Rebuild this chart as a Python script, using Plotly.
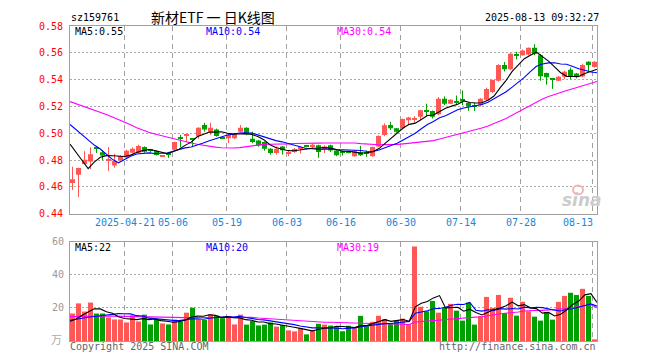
import plotly.graph_objects as go

# ---------------- data ----------------
dates = [
    "2025-04-08", "2025-04-09", "2025-04-10", "2025-04-11", "2025-04-14", "2025-04-15", "2025-04-16", "2025-04-17", "2025-04-18",
    "2025-04-21", "2025-04-22", "2025-04-23", "2025-04-24", "2025-04-25", "2025-04-28", "2025-04-29", "2025-04-30",
    "2025-05-06", "2025-05-07", "2025-05-08", "2025-05-09", "2025-05-12", "2025-05-13", "2025-05-14", "2025-05-15", "2025-05-16",
    "2025-05-19", "2025-05-20", "2025-05-21", "2025-05-22", "2025-05-23", "2025-05-26", "2025-05-27", "2025-05-28", "2025-05-29", "2025-05-30",
    "2025-06-03", "2025-06-04", "2025-06-05", "2025-06-06", "2025-06-09", "2025-06-10", "2025-06-11", "2025-06-12", "2025-06-13",
    "2025-06-16", "2025-06-17", "2025-06-18", "2025-06-19", "2025-06-20", "2025-06-23", "2025-06-24", "2025-06-25", "2025-06-26", "2025-06-27",
    "2025-06-30", "2025-07-01", "2025-07-02", "2025-07-03", "2025-07-04", "2025-07-07", "2025-07-08", "2025-07-09", "2025-07-10", "2025-07-11",
    "2025-07-14", "2025-07-15", "2025-07-16", "2025-07-17", "2025-07-18", "2025-07-21", "2025-07-22", "2025-07-23", "2025-07-24", "2025-07-25",
    "2025-07-28", "2025-07-29", "2025-07-30", "2025-07-31", "2025-08-01", "2025-08-04", "2025-08-05", "2025-08-06", "2025-08-07", "2025-08-08",
    "2025-08-11", "2025-08-12", "2025-08-13",
]

open_ = [
    0.4630, 0.4690, 0.4770, 0.4790, 0.4885, 0.4858, 0.4800, 0.4760, 0.4800, 0.4820,
    0.4855, 0.4855, 0.4897, 0.4875, 0.4868, 0.4826, 0.4845, 0.4878, 0.4965, 0.4980,
    0.4955, 0.4980, 0.5061, 0.5012, 0.5029, 0.4966, 0.4963, 0.4963, 0.5012, 0.5041,
    0.4959, 0.4946, 0.4934, 0.4885, 0.4853, 0.4902, 0.4851, 0.4861, 0.4887, 0.4903,
    0.4897, 0.4910, 0.4882, 0.4910, 0.4871, 0.4860, 0.4862, 0.4829, 0.4858, 0.4848,
    0.4829, 0.4902, 0.4988, 0.5061, 0.5037, 0.5037, 0.5098, 0.5103, 0.5123, 0.5162,
    0.5167, 0.5142, 0.5258, 0.5221, 0.5235, 0.5247, 0.5226, 0.5202, 0.5209, 0.5250,
    0.5307, 0.5392, 0.5509, 0.5478, 0.5584, 0.5582, 0.5588, 0.5637, 0.5582, 0.5449,
    0.5402, 0.5392, 0.5422, 0.5473, 0.5446, 0.5424, 0.5534, 0.5495,
]
high = [
    0.4751, 0.4743, 0.4866, 0.4895, 0.4897, 0.4873, 0.4897, 0.4846, 0.4835, 0.4878,
    0.4895, 0.4915, 0.4902, 0.4880, 0.4872, 0.4835, 0.4850, 0.4938, 0.4988, 0.4995,
    0.4958, 0.5045, 0.5078, 0.5078, 0.5035, 0.4970, 0.5000, 0.5003, 0.5061, 0.5045,
    0.5012, 0.4950, 0.4940, 0.4890, 0.4902, 0.4905, 0.4866, 0.4890, 0.4902, 0.4905,
    0.4922, 0.4915, 0.4910, 0.4915, 0.4878, 0.4871, 0.4866, 0.4875, 0.4907, 0.4871,
    0.4900, 0.4985, 0.5074, 0.5086, 0.5040, 0.5110, 0.5123, 0.5128, 0.5175, 0.5221,
    0.5170, 0.5270, 0.5275, 0.5255, 0.5282, 0.5319, 0.5230, 0.5226, 0.5262, 0.5340,
    0.5400, 0.5515, 0.5532, 0.5598, 0.5607, 0.5625, 0.5640, 0.5665, 0.5590, 0.5452,
    0.5405, 0.5427, 0.5466, 0.5490, 0.5450, 0.5519, 0.5537, 0.5537,
]
low = [
    0.4577, 0.4525, 0.4770, 0.4731, 0.4853, 0.4800, 0.4719, 0.4743, 0.4795, 0.4815,
    0.4850, 0.4850, 0.4855, 0.4855, 0.4834, 0.4822, 0.4817, 0.4875, 0.4897, 0.4934,
    0.4897, 0.4960, 0.5012, 0.4988, 0.4975, 0.4955, 0.4927, 0.4958, 0.5005, 0.4985,
    0.4926, 0.4900, 0.4870, 0.4841, 0.4841, 0.4841, 0.4829, 0.4855, 0.4848, 0.4895,
    0.4890, 0.4817, 0.4853, 0.4860, 0.4829, 0.4834, 0.4850, 0.4825, 0.4830, 0.4824,
    0.4825, 0.4898, 0.4978, 0.5025, 0.5005, 0.5030, 0.5061, 0.5081, 0.5098, 0.5130,
    0.5110, 0.5135, 0.5209, 0.5218, 0.5209, 0.5209, 0.5167, 0.5167, 0.5200, 0.5245,
    0.5300, 0.5385, 0.5461, 0.5470, 0.5551, 0.5578, 0.5580, 0.5582, 0.5392, 0.5363,
    0.5331, 0.5388, 0.5405, 0.5405, 0.5410, 0.5417, 0.5458, 0.5490,
]
close = [
    0.4658, 0.4741, 0.4802, 0.4843, 0.4883, 0.4834, 0.4805, 0.4795, 0.4830, 0.4870,
    0.4885, 0.4905, 0.4862, 0.4870, 0.4838, 0.4830, 0.4840, 0.4934, 0.4960, 0.4985,
    0.4950, 0.5041, 0.5029, 0.5041, 0.4980, 0.4963, 0.4988, 0.5000, 0.5041, 0.4993,
    0.4934, 0.4909, 0.4885, 0.4853, 0.4885, 0.4873, 0.4855, 0.4882, 0.4890, 0.4900,
    0.4915, 0.4861, 0.4902, 0.4871, 0.4836, 0.4858, 0.4860, 0.4871, 0.4836, 0.4846,
    0.4897, 0.4980, 0.5059, 0.5037, 0.5012, 0.5106, 0.5118, 0.5106, 0.5172, 0.5160,
    0.5123, 0.5258, 0.5221, 0.5250, 0.5233, 0.5245, 0.5201, 0.5200, 0.5258, 0.5331,
    0.5397, 0.5509, 0.5478, 0.5593, 0.5582, 0.5618, 0.5637, 0.5593, 0.5426, 0.5417,
    0.5400, 0.5422, 0.5458, 0.5422, 0.5417, 0.5509, 0.5509, 0.5534,
]
volume = [  # 万手
    16.6, 22.7, 17.8, 23.2, 16.6, 16.6, 14.2, 13.0, 13.0, 11.2,
    15.5, 11.8, 15.9, 10.0, 13.2, 10.6, 10.0, 13.0, 11.7, 17.1,
    20.1, 13.1, 12.7, 16.1, 15.3, 13.8, 14.8, 10.0, 15.9, 9.9,
    12.1, 9.4, 9.9, 11.2, 8.7, 9.6, 6.4, 5.8, 7.7, 4.0,
    6.6, 10.4, 9.9, 9.3, 8.3, 5.9, 9.2, 7.7, 15.2, 9.0,
    11.6, 15.2, 13.3, 10.2, 12.4, 13.5, 10.2, 57.0, 20.7, 18.0,
    24.2, 17.1, 19.9, 22.4, 18.3, 12.3, 23.2, 9.9, 15.0, 26.6,
    20.0, 27.8, 16.9, 26.1, 15.3, 23.7, 18.0, 14.7, 12.3, 17.5,
    12.9, 23.6, 27.2, 29.1, 27.8, 31.5, 27.2, 1.0,
]

# moving-average values at the start of the window (they depend on earlier days)
ma5_head = [0.4920, 0.4862, 0.4797, 0.4736]
ma10_head = [0.5066, 0.5027, 0.4986, 0.4946, 0.4912, 0.4883, 0.4841, 0.4805, 0.4780]
ma30_head = [0.5236, 0.5221, 0.5206, 0.5190, 0.5175, 0.5158, 0.5140, 0.5122, 0.5104, 0.5084,
             0.5063, 0.5042, 0.5022, 0.5007, 0.4995, 0.4983, 0.4970, 0.4959, 0.4948, 0.4936,
             0.4927, 0.4918, 0.4910, 0.4903, 0.4897, 0.4892, 0.4890, 0.4890, 0.4893]
vma5_head = [11.9, 13.3, 15.5, 17.7]
vma10_head = [12.5, 13.2, 13.8, 14.3, 14.8, 15.3, 15.8, 16.2, 16.5]
vma30_head = [14.7, 14.8, 15.0, 15.1, 15.2, 15.2, 15.1, 15.0, 14.9, 14.8,
              14.7, 14.6, 14.5, 14.4, 14.3, 14.2, 14.1, 14.1, 14.0, 14.1,
              14.2, 14.2, 14.1, 14.1, 14.2, 14.2, 14.3, 14.3, 14.4]

tick_dates = ["2025-04-21", "2025-05-06", "2025-05-19", "2025-06-03", "2025-06-16",
              "2025-06-30", "2025-07-14", "2025-07-28", "2025-08-13"]
tick_labels = ["2025-04-21", "05-06", "05-19", "06-03", "06-16", "06-30", "07-14", "07-28", "08-13"]
price_ticks = [0.44, 0.46, 0.48, 0.50, 0.52, 0.54, 0.56, 0.58]
vol_ticks = [20, 40, 60]

title_code = "sz159761"
title_text = "新材ETF 一 日K线图"
timestamp = "2025-08-13 09:32:27"
ma_labels = ["MA5:0.55", "MA10:0.54", "MA30:0.54"]
vma_labels = ["MA5:22", "MA10:20", "MA30:19"]


def moving_avg(vals, w, head):
    out = list(head)
    for i in range(len(head), len(vals)):
        out.append(sum(vals[i - w + 1:i + 1]) / w)
    return out


ma5 = moving_avg(close, 5, ma5_head)
ma10 = moving_avg(close, 10, ma10_head)
ma30 = moving_avg(close, 30, ma30_head)
vma5 = moving_avg(volume, 5, vma5_head)
vma10 = moving_avg(volume, 10, vma10_head)
vma30 = moving_avg(volume, 30, vma30_head)

# ---------------- layout geometry (target page pixels) ----------------
PAGE_OFF = 8           # default body margin of the html page
W, H = 660, 360
L, R, T, B = 70, 597, 21, 341
SLOT = 6.0
XR0 = -5 / 12
XR1 = XR0 + (R - L) / SLOT
MAIN_BOTTOM_PX = 211.7
VOL_TOP_PX = 240.0
main_dom = [(B - MAIN_BOTTOM_PX) / (B - T), 1.0]
vol_dom = [0.0, (B - VOL_TOP_PX) / (B - T)]
PRICE_RANGE = [0.44, 0.58]
VOL_RANGE = [0, 60]

UP = "#ff5656"
DOWN = "#00a000"
MONO = "DejaVu Sans Mono"
CJK = "Noto Sans CJK SC"


def pxx(px):
    return (px - L) / (R - L)


def pxy(py):
    return (B - py) / (B - T)


n = len(dates)
idx = list(range(n))
ma_x = [XR0 + i * (XR1 - XR0) / (n - 1) for i in idx]
is_up = [c >= o for o, c in zip(open_, close)]
colors = [UP if u else DOWN for u in is_up]

frame = "#a0a0a0"
grid = "#a8a8a8"
vgrid = "#a0a0a0"
grid_x = [dates.index(d) - 1 / 3 for d in tick_dates]

fig = go.Figure()

# wicks
for flag, col in ((True, UP), (False, DOWN)):
    wx, wy = [], []
    for i in idx:
        if is_up[i] == flag:
            wx += [i, i, None]
            wy += [low[i], high[i], None]
    fig.add_trace(go.Scatter(x=wx, y=wy, mode="lines", line=dict(color=col, width=1),
                             xaxis="x", yaxis="y", hoverinfo="skip"))

# bodies
base = [min(o, c) for o, c in zip(open_, close)]
body = [max(abs(c - o), 0.0008) for o, c in zip(open_, close)]
fig.add_trace(go.Bar(x=idx, y=body, base=base, width=5 / 6, marker=dict(color=colors, line=dict(width=0)),
                     xaxis="x", yaxis="y", hoverinfo="skip"))

# price MAs
for vals, col in ((ma30, "#ff00ff"), (ma10, "#0000ff"), (ma5, "#000000")):
    fig.add_trace(go.Scatter(x=ma_x, y=vals, mode="lines", line=dict(color=col, width=1.1),
                             xaxis="x", yaxis="y", hoverinfo="skip"))

# volume
fig.add_trace(go.Bar(x=idx, y=volume, width=5 / 6, marker=dict(color=colors, line=dict(width=0)),
                     xaxis="x2", yaxis="y2", hoverinfo="skip"))
for vals, col in ((vma30, "#ff00ff"), (vma10, "#0000ff"), (vma5, "#000000")):
    fig.add_trace(go.Scatter(x=ma_x, y=vals, mode="lines", line=dict(color=col, width=1.1),
                             xaxis="x2", yaxis="y2", hoverinfo="skip"))

axis_common = dict(showline=True, mirror=True, linecolor=frame, linewidth=1, zeroline=False)
xgrid = dict(tickmode="array", tickvals=grid_x, showticklabels=False, ticks="",
             showgrid=True, gridcolor=vgrid, griddash="5px,4px", gridwidth=1)

shapes = []
annotations = []
for d, lab in zip(tick_dates, tick_labels):
    k = dates.index(d)
    gx = k - 1 / 3
    if k == n - 1:
        annotations.append(dict(x=k, xref="x", y=pxy(221), yref="paper", text=lab, showarrow=False,
                                xanchor="right", yanchor="middle",
                                font=dict(family=MONO, size=10, color="#1a86d9")))
    else:
        annotations.append(dict(x=gx, xref="x", y=pxy(221), yref="paper", text=lab, showarrow=False,
                                xanchor="center", yanchor="middle",
                                font=dict(family=MONO, size=10, color="#1a86d9")))


def txt(text, px, py, anchor="left", color="#000", size=10, family=MONO, **kw):
    annotations.append(dict(x=pxx(px), y=pxy(py), xref="paper", yref="paper", text=text,
                            showarrow=False, xanchor=anchor, yanchor="middle",
                            font=dict(family=family, size=size, color=color, **kw)))


txt(title_code, 69, 12)
txt(title_text, 149, 12, size=14, family=CJK)
txt(timestamp, 601, 12, anchor="right")

ma_cols = ["#000000", "#0000ff", "#ff00ff"]
for lab, col, px in zip(ma_labels, ma_cols, (73, 204, 335)):
    txt(lab, px, 26.5, color=col)
for lab, col, px in zip(vma_labels, ma_cols, (73, 204, 335)):
    txt(lab, px, 246, color=col)

txt("Copyright 2025 SINA.COM", 68, 347, color="#666666")
txt("http://finance.sina.com.cn", 598, 347, anchor="right", color="#666666")
txt("万", 56, 339, anchor="center", color="#aaaaaa", size=11, family=CJK)

# sina watermark
txt("sina", 582, 198, anchor="center", color="#cccccc", size=17, family="DejaVu Sans",
    weight="bold", style="italic")
shapes.append(dict(type="circle", xref="paper", yref="paper",
                   x0=pxx(573), x1=pxx(583), y0=pxy(192), y1=pxy(183),
                   line=dict(color="#f3b3b3", width=2)))

fig.update_layout(
    width=W - PAGE_OFF, height=H - PAGE_OFF,
    margin=dict(l=L - PAGE_OFF, r=W - R, t=T - PAGE_OFF, b=H - B, pad=0),
    paper_bgcolor="white", plot_bgcolor="white",
    showlegend=False, barmode="overlay", hovermode=False,
    xaxis=dict(domain=[0, 1], range=[XR0, XR1], anchor="y", **xgrid, **axis_common),
    yaxis=dict(domain=main_dom, range=PRICE_RANGE, tickvals=price_ticks,
               ticktext=["%.2f" % v for v in price_ticks],
               tickfont=dict(family=MONO, size=10, color="#ff0000"), ticks="",
               ticklabelstandoff=4,
               showgrid=True, gridcolor=grid, griddash="2px,2px", gridwidth=1, **axis_common),
    xaxis2=dict(domain=[0, 1], range=[XR0, XR1], anchor="y2", **xgrid, **axis_common),
    yaxis2=dict(domain=vol_dom, range=VOL_RANGE, tickvals=vol_ticks,
                ticktext=[str(v) for v in vol_ticks],
                tickfont=dict(family=MONO, size=10, color="#999999"), ticks="",
                ticklabelstandoff=3,
                showgrid=True, gridcolor=grid, griddash="2px,2px", gridwidth=1, **axis_common),
    shapes=shapes,
    annotations=annotations,
)

fig.write_html("out.html", config={"displayModeBar": False})
